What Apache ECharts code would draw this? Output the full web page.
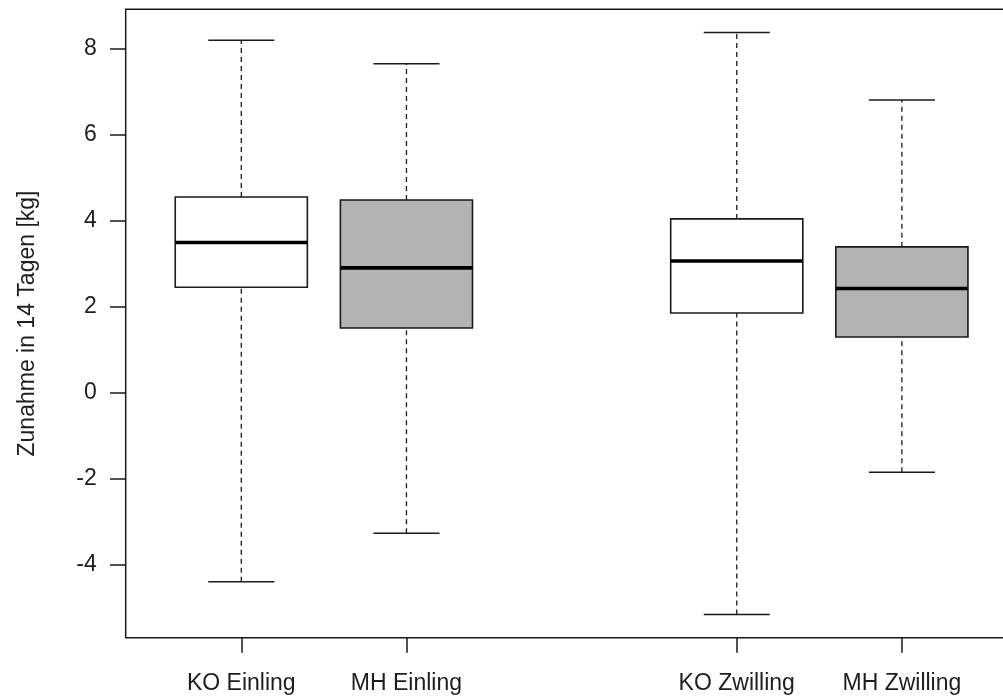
<!DOCTYPE html>
<html>
<head>
<meta charset="utf-8">
<script src="https://cdn.jsdelivr.net/npm/echarts@6/dist/echarts.min.js"></script>
<style>
html,body{margin:0;padding:0;background:#fff;overflow:hidden;}
#chart{width:1030px;height:697px;}
</style>
</head>
<body>
<div id="chart"></div>
<script>
// ---- data ----
const categories = ['KO Einling', 'MH Einling', 'KO Zwilling', 'MH Zwilling'];
const positions  = [1, 2, 4, 5];
const whiskerLow = [-4.41, -3.28, -5.17, -1.86];
const q1         = [2.45, 1.50, 1.85, 1.29];
const medians    = [3.49, 2.90, 3.06, 2.42];
const q3         = [4.55, 4.48, 4.04, 3.39];
const whiskerHigh= [8.20, 7.65, 8.38, 6.81];
const fills      = ['#FFFFFF', '#B3B3B3', '#FFFFFF', '#B3B3B3'];
const yTicks     = [-4, -2, 0, 2, 4, 6, 8];
const yTitle     = 'Zunahme in 14 Tagen [kg]';

const seriesData = positions.map((p, i) => [p, whiskerLow[i], q1[i], medians[i], q3[i], whiskerHigh[i], i]);

const FONT = 'Liberation Sans, Arial, sans-serif';
const TXT = '#1e1e1e';
const LINE = '#1a1a1a';

function renderItem(params, api) {
  const x = api.value(0), lo = api.value(1), a = api.value(2), m = api.value(3), b = api.value(4), hi = api.value(5);
  const idx = api.value(6);
  const half = 0.4, capHalf = 0.2;
  const pLo = api.coord([x, lo]), pA = api.coord([x, a]), pB = api.coord([x, b]), pHi = api.coord([x, hi]);
  const left = api.coord([x - half, m]), right = api.coord([x + half, m]);
  const capL = api.coord([x - capHalf, hi])[0], capR = api.coord([x + capHalf, hi])[0];
  const dash = {stroke: LINE, lineWidth: 1.3, lineDash: [5, 4]};
  const solid = {stroke: LINE, lineWidth: 1.5};
  return {
    type: 'group',
    children: [
      {type: 'line', shape: {x1: pB[0], y1: pB[1], x2: pHi[0], y2: pHi[1]}, style: dash},
      {type: 'line', shape: {x1: pLo[0], y1: pLo[1], x2: pA[0], y2: pA[1]}, style: dash},
      {type: 'line', shape: {x1: capL, y1: pHi[1], x2: capR, y2: pHi[1]}, style: solid},
      {type: 'line', shape: {x1: capL, y1: pLo[1], x2: capR, y2: pLo[1]}, style: solid},
      {type: 'rect', shape: {x: left[0], y: pB[1], width: right[0] - left[0], height: pA[1] - pB[1]},
        style: {fill: fills[idx], stroke: LINE, lineWidth: 1.6}},
      {type: 'line', shape: {x1: left[0], y1: left[1], x2: right[0], y2: right[1]},
        style: {stroke: '#000', lineWidth: 3.6}}
    ]
  };
}

const chart = echarts.init(document.getElementById('chart'), null, {renderer: 'canvas'});
chart.setOption({
  animation: false,
  backgroundColor: '#fff',
  grid: {
    left: 125.7, top: 9.3, width: 891.8, height: 628.4,
    show: true, borderColor: LINE, borderWidth: 1.5, backgroundColor: 'transparent'
  },
  xAxis: {
    type: 'value', min: 0.3, max: 5.7, position: 'bottom',
    axisLine: {show: false, onZero: false},
    splitLine: {show: false},
    axisTick: {show: true, customValues: positions, length: 15, inside: false, lineStyle: {color: LINE, width: 1.5}},
    axisLabel: {
      customValues: positions,
      formatter: v => { const i = positions.indexOf(Math.round(v)); return i >= 0 ? categories[i] : ''; },
      margin: 34, color: TXT, fontFamily: FONT, fontSize: 23
    }
  },
  yAxis: {
    type: 'value', min: -5.71, max: 8.92, position: 'left',
    name: yTitle, nameLocation: 'middle', nameGap: 87, nameRotate: 90,
    nameTextStyle: {color: TXT, fontFamily: FONT, fontSize: 23},
    axisLine: {show: false, onZero: false},
    splitLine: {show: false},
    axisTick: {show: true, customValues: yTicks, length: 15.7, lineStyle: {color: LINE, width: 1.5}},
    axisLabel: {customValues: yTicks, margin: 29, color: TXT, fontFamily: FONT, fontSize: 23}
  },
  series: [{
    type: 'custom',
    renderItem: renderItem,
    encode: {x: 0, y: [1, 2, 3, 4, 5]},
    data: seriesData
  }]
});
</script>
</body>
</html>
